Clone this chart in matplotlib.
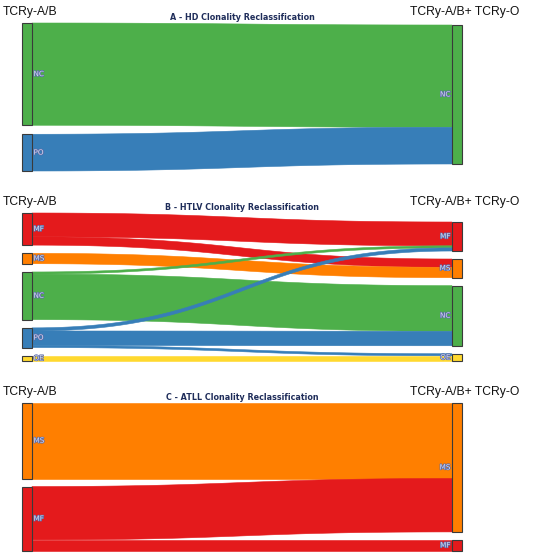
import numpy as np
import matplotlib
matplotlib.use("Agg")
from matplotlib import pyplot as plt
from matplotlib.patches import Rectangle, Polygon
import matplotlib.patheffects as pe

# node colours by class
colors = {"MF": "#e41a1c", "MS": "#ff7f00", "NC": "#4daf4a",
          "PO": "#377eb8", "OE": "#ffd92f"}

left_title = "TCRy-A/B"
right_title = "TCRy-A/B+ TCRy-O"

# panel A - HD
a_title = "A - HD Clonality Reclassification"
a_left = ["NC", "PO"]
a_right = ["NC"]
a_links = [("NC", "NC", 103), ("PO", "NC", 37)]

# panel B - HTLV
b_title = "B - HTLV Clonality Reclassification"
b_left = ["MF", "MS", "NC", "PO", "OE"]
b_right = ["MF", "MS", "NC", "OE"]
b_links = [("MF", "MF", 23), ("MF", "MS", 8), ("MS", "MS", 10),
           ("NC", "MF", 2), ("NC", "NC", 44),
           ("PO", "MF", 3), ("PO", "NC", 14), ("PO", "OE", 2),
           ("OE", "OE", 5)]

# panel C - ATLL
c_title = "C - ATLL Clonality Reclassification"
c_left = ["MS", "MF"]
c_right = ["MS", "MF"]
c_links = [("MS", "MS", 75), ("MF", "MS", 53), ("MF", "MF", 11)]

panels = [
    dict(title=a_title, left=a_left, right=a_right, links=a_links,
         top=0, lspan=(23, 171), rspan=(25, 164)),
    dict(title=b_title, left=b_left, right=b_right, links=b_links,
         top=190, lspan=(23, 171), rspan=(32, 171)),
    dict(title=c_title, left=c_left, right=c_right, links=c_links,
         top=380, lspan=(23, 171), rspan=(23, 171)),
]

XL0, XL1 = 22, 32
XR0, XR1 = 452, 462
PAD = 8

fig = plt.figure(figsize=(5.5, 5.57), dpi=100)
ax = fig.add_axes([0, 0, 1, 1])
ax.set_xlim(0, 550)
ax.set_ylim(557, 0)
ax.axis("off")

label_fx = [pe.withStroke(linewidth=1.0, foreground="#5a6aa8")]


def layout(names, totals, span, top, scale):
    h = [totals[n] * scale for n in names]
    free = (span[1] - span[0]) - sum(h)
    pad = free / (len(names) - 1) if len(names) > 1 else 0
    pos = {}
    y = top + span[0]
    for n, hh in zip(names, h):
        pos[n] = [y, y + hh]
        y += hh + pad
    return pos


def bezier(x0, y0, x1, y1, n=60):
    t = np.linspace(0, 1, n)
    xm = (x0 + x1) / 2
    px = (1 - t)**3 * x0 + 3 * (1 - t)**2 * t * xm + 3 * (1 - t) * t**2 * xm + t**3 * x1
    py = (1 - t)**3 * y0 + 3 * (1 - t)**2 * t * y0 + 3 * (1 - t) * t**2 * y1 + t**3 * y1
    return px, py


for p in panels:
    lt = {n: 0 for n in p["left"]}
    rt = {n: 0 for n in p["right"]}
    for s, d, v in p["links"]:
        lt[s] += v
        rt[d] += v
    scale = min((p["lspan"][1] - p["lspan"][0] - PAD * (len(p["left"]) - 1)) / sum(lt.values()),
                (p["rspan"][1] - p["rspan"][0] - PAD * (len(p["right"]) - 1)) / sum(rt.values()))
    lpos = layout(p["left"], lt, p["lspan"], p["top"], scale)
    rpos = layout(p["right"], rt, p["rspan"], p["top"], scale)

    # outgoing ordered by target, incoming ordered by source
    lcur = {n: lpos[n][0] for n in lpos}
    rcur = {n: rpos[n][0] for n in rpos}
    bands = {}
    for s, d, v in sorted(p["links"], key=lambda l: (p["left"].index(l[0]), p["right"].index(l[1]))):
        bands[(s, d)] = [lcur[s], lcur[s] + v * scale]
        lcur[s] += v * scale
    for s, d, v in sorted(p["links"], key=lambda l: (p["right"].index(l[1]), p["left"].index(l[0]))):
        bands[(s, d)] += [rcur[d], rcur[d] + v * scale]
        rcur[d] += v * scale

    for s, d, v in p["links"]:
        a0, a1, b0, b1 = bands[(s, d)]
        tx, ty = bezier(XL1, a0, XR0, b0)
        bx, by = bezier(XL1, a1, XR0, b1)
        pts = np.column_stack([np.concatenate([tx, bx[::-1]]),
                               np.concatenate([ty, by[::-1]])])
        ax.add_patch(Polygon(pts, closed=True, facecolor=colors[s],
                             edgecolor=colors[s], linewidth=0.4))

    for n, (y0, y1) in lpos.items():
        ax.add_patch(Rectangle((XL0, y0), XL1 - XL0, y1 - y0, facecolor=colors[n],
                               edgecolor="#3a3a3a", linewidth=0.8))
        ax.text(XL1 + 1.5, (y0 + y1) / 2, n, fontsize=5.2, color="#d8dcf0",
                ha="left", va="center", path_effects=label_fx)
    for n, (y0, y1) in rpos.items():
        ax.add_patch(Rectangle((XR0, y0), XR1 - XR0, y1 - y0, facecolor=colors[n],
                               edgecolor="#3a3a3a", linewidth=0.8))
        ax.text(XR0 - 1.5, (y0 + y1) / 2, n, fontsize=5.2, color="#d8dcf0",
                ha="right", va="center", path_effects=label_fx)

    ax.text(242, p["top"] + 17, p["title"], fontsize=5.8, fontweight="bold",
            color="#1f2d5a", ha="center", va="center", family="DejaVu Sans")
    ax.text(3, p["top"] + 12, left_title, fontsize=8.7, color="#111111",
            ha="left", va="center", family="Liberation Sans")
    ax.text(519, p["top"] + 12, right_title, fontsize=8.7, color="#111111",
            ha="right", va="center", family="Liberation Sans")

fig.savefig("out.png", dpi=100)
